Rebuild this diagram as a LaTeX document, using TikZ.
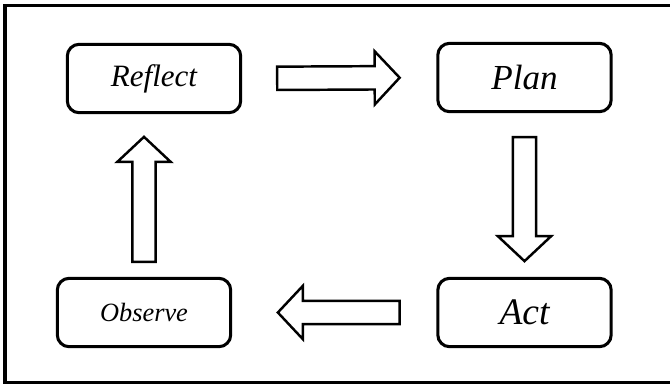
\documentclass[tikz,border=0pt]{standalone}
\usepackage{fontspec}
\setmainfont{Liberation Serif}
\usetikzlibrary{calc}

\tikzset{stage/.style={draw,line width=2.6pt,rounded corners=10pt,minimum width=5.2cm,minimum height=2.05cm,font=\itshape}}
\newcommand{\blockarrow}[2]{%
    \coordinate (h) at ($(#2)!0.75cm!(#1)$);
    \draw[line width=2.1pt,line join=miter]($(#1)!0.35cm!90:(#2)$)--($(h)!0.35cm!-90:(#1)$)--($(h)!0.8cm!-90:(#1)$)--(#2)
        --($(h)!0.8cm!90:(#1)$)--($(h)!0.35cm!90:(#1)$)--($(#1)!0.35cm!-90:(#2)$)--cycle;}

\begin{document}
\begin{tikzpicture}[x=0.03cm,y=-0.03cm]
    \useasboundingbox(0,0)rectangle(670,386);
    \draw[line width=2.6pt](5,5.5)rectangle(720,382.5);

    \node[stage](reflect)at(154,78.5){\fontsize{26.5}{30}\selectfont Reflect};
    \node[stage](plan)at(524.5,77.5){\fontsize{30}{34}\selectfont Plan};
    \node[stage](observe)at(144,312.5){\fontsize{22.5}{26}\selectfont Observe};
    \node[stage](act)at(524.5,312.5){\fontsize{32}{36}\selectfont Act};

    \coordinate (a1) at ($(reflect.east)!1.05cm!(plan.west)$);
    \coordinate (b1) at ($(plan.west)!1.1cm!(reflect.east)$);
    \blockarrow{a1}{b1}
    \coordinate (a2) at ($(plan.south)!0.72cm!(act.north)$);
    \coordinate (b2) at ($(act.north)!0.47cm!(plan.south)$);
    \blockarrow{a2}{b2}
    \coordinate (a3) at ($(act.west)!1.1cm!(observe.east)$);
    \coordinate (b3) at ($(observe.east)!1.37cm!(act.west)$);
    \blockarrow{a3}{b3}
    \coordinate (a4) at ($(observe.north)!0.45cm!(observe.north|-reflect.south)$);
    \coordinate (b4) at ($(observe.north|-reflect.south)!0.68cm!(observe.north)$);
    \blockarrow{a4}{b4}
\end{tikzpicture}
\end{document}
